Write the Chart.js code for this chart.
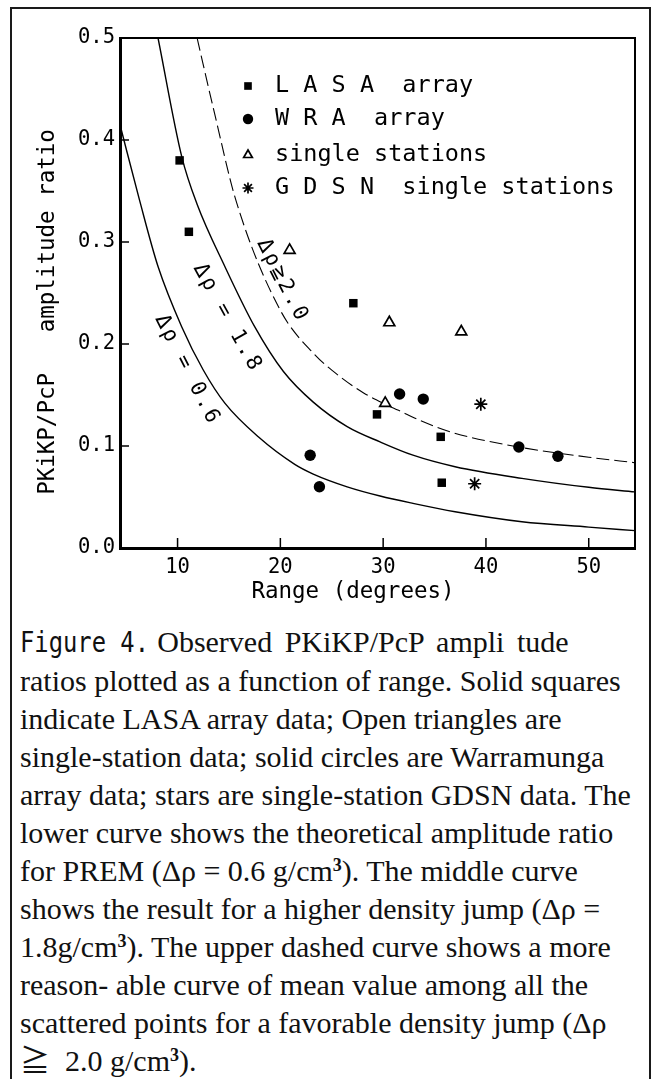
<!DOCTYPE html>
<html>
<head>
<meta charset="utf-8">
<title>PKiKP/PcP amplitude ratio vs range</title>
<script src="https://cdn.jsdelivr.net/npm/chart.js@4.4.1/dist/chart.umd.min.js"></script>
<style>
  html, body { margin: 0; padding: 0; background: #fff; }
  body { position: relative; width: 658px; height: 1079px; overflow: hidden; }
  #frame { position: absolute; left: 10px; top: 7px; width: 637px; height: 1100px; border: 2px solid #1a1a1a; }
  #box { position: absolute; left: 0; top: 0; width: 658px; height: 610px; }
  #caption { position: absolute; left: 20px; top: 623px; color: #111;
    font-family: 'Liberation Serif', 'Noto Sans CJK JP', serif; font-size: 30px; line-height: 38px; white-space: nowrap; }
  #caption .fig { display: inline-block; font-family: 'DejaVu Sans Mono', monospace; font-size: 28px;
    transform: scaleX(0.85); transform-origin: 0 0; margin-right: -22px; }
  #caption .l1 { word-spacing: 5px; }
  #caption sup { font-size: 0.6em; line-height: 0; vertical-align: 0.55em; font-weight: bold; }
</style>
</head>
<body>
<div id="frame"></div>
<div id="box"><canvas id="chart"></canvas></div>
<div id="caption"><span class="fig">Figure 4.</span> <span class="l1">Observed PKiKP/PcP ampli tude</span><br>
ratios plotted as a function of range. Solid squares<br>
indicate LASA array data; Open triangles are<br>
single-station data; solid circles are Warramunga<br>
array data; stars are single-station GDSN data. The<br>
lower curve shows the theoretical amplitude ratio<br>
for PREM (Δρ = 0.6 g/cm<sup>3</sup>). The middle curve<br>
shows the result for a higher density jump (Δρ =<br>
1.8g/cm<sup>3</sup>). The upper dashed curve shows a more<br>
reason- able curve of mean value among all the<br>
scattered points for a favorable density jump (Δρ<br>
≧&nbsp; 2.0 g/cm<sup>3</sup>).</div>
<script>
var rangeTicks = [10, 20, 30, 40, 50];
var ratioTicks = [0.0, 0.1, 0.2, 0.3, 0.4, 0.5];

// observations
var lasaRange = [10.2, 11.1, 27.1, 29.4, 35.6, 35.7];
var lasaRatio = [0.380, 0.310, 0.240, 0.131, 0.109, 0.064];
var wraRange = [22.9, 23.8, 31.6, 33.9, 43.2, 47.0];
var wraRatio = [0.091, 0.060, 0.151, 0.146, 0.099, 0.090];
var singleRange = [20.9, 30.6, 37.6, 30.2];
var singleRatio = [0.292, 0.221, 0.212, 0.142];
var gdsnRange = [39.5, 38.9];
var gdsnRatio = [0.141, 0.063];

// theoretical curves
var curve06Range = [4.5, 6.3, 8.1, 10.4, 12.5, 14.6, 17.85, 21.4, 23.2, 26.5, 29.7, 32.9, 37.0, 43.5, 50.0, 54.5];
var curve06Ratio = [0.411, 0.341, 0.276, 0.217, 0.1745, 0.142, 0.109, 0.082, 0.0725, 0.060, 0.051, 0.0438, 0.0356, 0.0258, 0.0205, 0.017];
var curve18Range = [8.1, 10.4, 11.9, 14.6, 17.5, 20.3, 23.2, 26.5, 29.7, 32.9, 37.0, 43.5, 50.0, 54.5];
var curve18Ratio = [0.5, 0.384, 0.337, 0.276, 0.217, 0.173, 0.143, 0.119, 0.104, 0.091, 0.0797, 0.0683, 0.0595, 0.055];
var curve20Range = [11.9, 13.6, 15.7, 20.0, 23.2, 25.8, 28.1, 30.2, 31.5, 33.6, 36.8, 43.2, 50.0, 54.5];
var curve20Ratio = [0.5, 0.426, 0.340, 0.233, 0.191, 0.168, 0.152, 0.141, 0.135, 0.125, 0.113, 0.099, 0.089, 0.0836];

var legendLabels = ['L A S A  array', 'W R A  array', 'single stations', 'G D S N  single stations'];
var curveLabels = ['Δρ = 0.6', 'Δρ = 1.8', 'Δρ≧2.0'];
var curveLabelRange = [10.95, 14.85, 20.2];
var curveLabelRatio = [0.1745, 0.2255, 0.262];
var curveLabelAngle = [63, 61, 63];

function pts(xs, ys) {
  return xs.map(function (x, i) { return { x: x, y: ys[i] }; });
}

var markerSets = [
  { label: legendLabels[0], data: pts(lasaRange, lasaRatio), pointStyle: 'rect', pointRadius: 6,
    backgroundColor: '#000', borderColor: '#000', borderWidth: 0 },
  { label: legendLabels[1], data: pts(wraRange, wraRatio), pointStyle: 'circle', pointRadius: 5.7,
    backgroundColor: '#000', borderColor: '#000', borderWidth: 0 },
  { label: legendLabels[2], data: pts(singleRange, singleRatio), pointStyle: 'triangle', pointRadius: 6.3,
    backgroundColor: '#fff', borderColor: '#000', borderWidth: 1.7 },
  { label: legendLabels[3], data: pts(gdsnRange, gdsnRatio), pointStyle: 'star', pointRadius: 6.5,
    backgroundColor: '#000', borderColor: '#000', borderWidth: 1.7 }
];

function curve(xs, ys, dash, w) {
  return { data: pts(xs, ys), showLine: true, pointRadius: 0, borderColor: '#000', borderWidth: w,
    borderDash: dash, cubicInterpolationMode: 'monotone', fill: false };
}

var mono = '"DejaVu Sans Mono", "Noto Sans CJK JP", monospace';

var decor = {
  id: 'decor',
  afterDraw: function (chart) {
    var ctx = chart.ctx, a = chart.chartArea;
    var xs = chart.scales.x, ys = chart.scales.y;
    ctx.save();
    ctx.strokeStyle = '#000';
    ctx.lineWidth = 2;
    ctx.beginPath();
    ctx.moveTo(a.left, a.top);
    ctx.lineTo(a.right, a.top);
    ctx.lineTo(a.right, a.bottom);
    ctx.stroke();

    // ticks point inward
    ctx.lineWidth = 1.5;
    ctx.beginPath();
    xs.ticks.forEach(function (t) {
      var px = xs.getPixelForValue(t.value);
      ctx.moveTo(px, a.bottom);
      ctx.lineTo(px, a.bottom - 10);
    });
    ys.ticks.forEach(function (t) {
      if (t.value <= ys.min + 1e-9 || t.value >= ys.max - 1e-9) return;
      var py = ys.getPixelForValue(t.value);
      ctx.moveTo(a.left, py);
      ctx.lineTo(a.left + 9, py);
    });
    ctx.stroke();

    ctx.fillStyle = '#000';
    ctx.font = '21px ' + mono;
    ctx.letterSpacing = '2.5px';
    ctx.textAlign = 'center';
    ctx.textBaseline = 'middle';
    curveLabels.forEach(function (txt, i) {
      ctx.save();
      ctx.translate(xs.getPixelForValue(curveLabelRange[i]), ys.getPixelForValue(curveLabelRatio[i]));
      ctx.rotate(curveLabelAngle[i] * Math.PI / 180);
      ctx.fillText(txt, 0, 0);
      ctx.restore();
    });

    // legend, top right inside the plot
    var lx = 248, tx = 275, rowY = [86, 119, 155, 188], legR = [5.4, 5.2, 5, 5.5];
    ctx.letterSpacing = '0px';
    ctx.font = '23.5px ' + mono;
    ctx.textAlign = 'left';
    markerSets.forEach(function (ds, i) {
      ctx.fillStyle = ds.backgroundColor;
      ctx.strokeStyle = ds.borderColor;
      ctx.lineWidth = ds.borderWidth;
      Chart.helpers.drawPoint(ctx, { pointStyle: ds.pointStyle, radius: legR[i], rotation: 0,
        borderWidth: ds.borderWidth }, lx, rowY[i]);
      ctx.fillStyle = '#000';
      ctx.fillText(ds.label, tx, rowY[i]);
    });

    // axis titles
    ctx.font = '22.5px ' + mono;
    ctx.textAlign = 'center';
    ctx.textBaseline = 'alphabetic';
    ctx.fillText('Range (degrees)', 353, 598);
    ctx.translate(48, 312);
    ctx.rotate(-Math.PI / 2);
    ctx.textBaseline = 'middle';
    ctx.fillText('PKiKP/PcP   amplitude ratio', 0, 0);
    ctx.restore();
  }
};

new Chart(document.getElementById('chart'), {
  type: 'scatter',
  data: {
    datasets: markerSets.concat([
      curve(curve06Range, curve06Ratio, [], 1.4),
      curve(curve18Range, curve18Ratio, [], 1.4),
      curve(curve20Range, curve20Ratio, [13, 5], 1.1)
    ])
  },
  options: {
    responsive: true,
    maintainAspectRatio: false,
    animation: false,
    layout: { padding: { top: 38, right: 23, left: 0, bottom: 0 } },
    plugins: { legend: { display: false }, tooltip: { enabled: false } },
    scales: {
      x: {
        type: 'linear', min: 4.4, max: 54.5,
        afterBuildTicks: function (s) { s.ticks = rangeTicks.map(function (v) { return { value: v }; }); },
        afterFit: function (s) { s.height = 62; },
        grid: { display: false, drawTicks: false },
        border: { display: true, color: '#000', width: 3 },
        ticks: { color: '#000', padding: 7, font: { family: mono, size: 20.5 }, maxRotation: 0 }
      },
      y: {
        type: 'linear', min: 0, max: 0.5,
        afterBuildTicks: function (s) { s.ticks = ratioTicks.map(function (v) { return { value: v }; }); },
        afterFit: function (s) { s.width = 120; },
        grid: { display: false, drawTicks: false },
        border: { display: true, color: '#000', width: 3 },
        ticks: { color: '#000', padding: 5, font: { family: mono, size: 20.5 },
          callback: function (v) { return Number(v).toFixed(1); } }
      }
    }
  },
  plugins: [decor]
});
</script>
</body>
</html>
